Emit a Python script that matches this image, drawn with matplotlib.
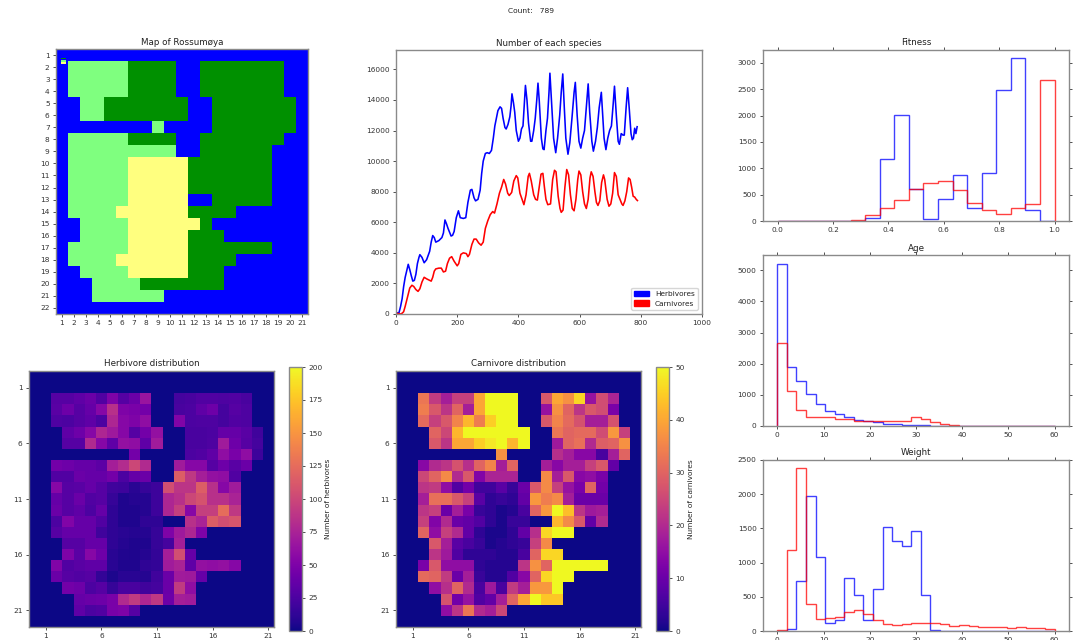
import numpy as np
import matplotlib
matplotlib.use("Agg")
import matplotlib.pyplot as plt
from matplotlib.patches import Patch

W, H = 1076, 640
RGB = {'O': (0, 0, 1), 'J': (0, .565, 0), 'S': (.5, 1, .5), 'D': (1, 1, .5)}

island_rows = [
    "OOOOOOOOOOOOOOOOOOOOO",
    "OSSSSSJJJJOOJJJJJJJOO",
    "OSSSSSJJJJOOJJJJJJJOO",
    "OSSSSSJJJJOOJJJJJJJOO",
    "OOSSJJJJJJJOOJJJJJJJO",
    "OOSSJJJJJJJOOJJJJJJJO",
    "OOOOOOOOSOOOOJJJJJJJO",
    "OSSSSSJJJJOOJJJJJJJOO",
    "OSSSSSSSSSOOJJJJJJOOO",
    "OSSSSSDDDDDJJJJJJJOOO",
    "OSSSSSDDDDDJJJJJJJOOO",
    "OSSSSSDDDDDJJJJJJJOOO",
    "OSSSSSDDDDDOOJJJJJOOO",
    "OSSSSDDDDDDJJJJOOOOOO",
    "OOSSSSDDDDDDJOOOOOOOO",
    "OOSSSSDDDDDJJJOOOOOOO",
    "OSSSSSDDDDDJJJJJJJOOO",
    "OSSSSDDDDDDJJJJOOOOOO",
    "OOSSSSDDDDDJJJOOOOOOO",
    "OOOSSSSJJJJJJJOOOOOOO",
    "OOOSSSSSSOOOOOOOOOOOO",
    "OOOOOOOOOOOOOOOOOOOOO",
]

# Herbivore density: (map row, first column, values)
herb_cells = [
    (2, 2, [30,30,35,40,28,50,30,40,65,0,0,22,24,28,28,26,28,24]),
    (3, 2, [32,42,30,38,55,85,50,48,45,0,0,24,25,35,42,22,30,26]),
    (4, 2, [27,25,30,35,25,78,55,50,60,0,0,52,25,26,26,22,28,26]),
    (5, 3, [35,42,55,78,68,55,30,45,62,0,0,24,24,25,38,38,32,20]),
    (6, 3, [30,30,80,55,35,62,60,35,70,0,0,24,24,26,70,42,30,22]),
    (7, 9, [45,0,0,0,0,25,28,35,60,48,60,18]),
    (8, 2, [45,42,38,38,33,72,82,100,80,0,0,70,55,55,30,42,32,40]),
    (9, 2, [28,28,40,38,38,45,25,38,40,0,0,115,90,72,62,60,28]),
    (10, 2, [55,30,32,38,30,20,18,10,15,18,105,88,88,115,85,55,70]),
    (11, 2, [38,30,40,28,30,15,6,8,8,18,78,85,100,108,85,85,75]),
    (12, 2, [40,30,35,25,38,12,6,6,8,18,78,95,55,95,95,125,90]),
    (13, 2, [25,52,38,38,28,12,6,6,12,12,0,0,85,75,115,105,110]),
    (14, 2, [30,38,38,38,20,12,10,8,8,15,50,68,78,50]),
    (15, 3, [30,30,38,38,12,8,6,6,15,22,72]),
    (16, 3, [50,32,55,42,10,7,6,8,14,72,105,38]),
    (17, 2, [52,28,32,35,35,10,6,6,12,14,70,75,35,62,60,62,55]),
    (18, 2, [40,30,28,30,14,5,10,10,8,20,40,70,68,38]),
    (19, 3, [45,42,25,30,15,24,24,20,22,40,92,60]),
    (20, 4, [38,40,42,48,80,92,78,90,42,72,70]),
    (21, 4, [35,25,28,48,50,30]),
]

carn_cells = [
    (2, 2, [33,23,18,24,24,40,50,50,50,0,0,28,40,37,46,16,26,19]),
    (3, 2, [34,28,22,30,18,40,50,50,50,0,0,16,37,30,22,28,26,12]),
    (4, 2, [31,24,28,35,42,34,45,50,50,0,0,28,35,31,27,18,18,27]),
    (5, 3, [30,25,42,50,50,50,50,50,50,0,0,33,30,31,31,26,38,24]),
    (6, 3, [28,22,40,40,45,48,50,42,50,0,0,17,30,32,20,29,30,37]),
    (7, 9, [37,0,0,0,0,21,18,14,14,6,18,30]),
    (8, 2, [14,20,22,27,21,30,35,18,30,0,0,18,14,18,18,24,28,9]),
    (9, 2, [25,30,36,20,28,13,19,19,19,0,0,36,18,28,14,15,12]),
    (10, 2, [22,23,15,7,11,5,5,8,4,10,28,36,24,16,12,30,11]),
    (11, 2, [18,32,32,28,24,8,3,4,3,9,38,34,36,18,10,10,10]),
    (12, 2, [22,24,10,18,12,4,3,1,2,6,30,38,50,43,22,17,18]),
    (13, 2, [24,13,20,10,9,7,3,1,4,4,0,0,42,36,28,9,20]),
    (14, 2, [30,15,24,20,9,3,1,1,3,9,21,46,50,50]),
    (15, 3, [28,18,8,6,4,1,2,3,4,24,36]),
    (16, 3, [22,17,7,3,3,3,2,2,6,30,46,46]),
    (17, 2, [12,28,15,15,15,3,2,2,2,22,37,30,50,50,50,50,50]),
    (18, 2, [31,30,23,10,18,4,2,2,7,14,30,46,50,50]),
    (19, 3, [15,21,30,20,6,17,6,23,18,38,38,50]),
    (20, 4, [27,11,16,7,9,18,30,40,50,44,44]),
    (21, 4, [15,22,33,20,18,25]),
]

herb_years = [0,10,15,20,25,30,40,45,50,55,60,65,70,75,78,85,92,100,110,115,120,125,130,140,150,155,160,165,170,180,185,190,197,204,210,220,228,235,243,248,255,260,268,275,280,285,292,298,305,312,318,323,328,333,340,345,350,356,360,366,372,376,379,384,388,393,400,405,410,415,420,423,428,433,440,444,450,455,460,464,468,475,480,484,490,495,500,503,508,515,522,528,535,540,545,550,555,562,568,575,582,586,592,598,604,610,616,622,628,633,640,645,652,658,664,671,674,680,686,692,698,704,710,714,720,726,730,736,742,746,752,757,762,768,772,776,780,784,788]
herb_count = [50,100,500,1000,1800,2400,3250,2900,2500,2150,2200,2600,3300,3700,3880,3700,3350,3550,4100,4700,5130,5000,4700,4800,5000,5300,6150,5900,5600,5100,5150,5400,6300,6750,6300,6250,6300,7300,8100,8150,7600,7400,7500,8100,9200,10000,10500,10550,10500,10700,11500,12300,12800,13300,13550,13450,12800,12200,12100,12400,12900,13600,14400,13800,13200,12000,11300,11500,12100,12300,14000,14950,14000,12500,11300,11300,12000,12800,14000,15100,14000,11500,10800,10750,12000,12800,14500,15750,14000,11500,10550,11500,13000,14500,15700,13500,11500,10450,11200,12800,14500,15150,13000,11300,10850,11500,12000,13500,15050,13200,11300,10650,11300,12200,13500,14500,13500,11500,10750,11500,12000,12300,13800,14900,13000,11300,11100,11800,11700,11700,13500,14800,13500,11800,11400,11500,12150,11800,12250]
carn_years = [0,15,20,25,30,35,40,45,52,58,65,72,78,85,92,100,115,120,125,130,140,148,155,162,168,175,182,190,200,205,212,220,230,235,240,248,255,262,270,278,285,292,300,308,316,322,330,338,345,352,358,365,370,378,385,393,398,405,412,418,425,432,436,442,450,456,462,468,474,480,485,490,496,505,512,518,523,530,536,540,546,552,558,564,570,576,582,588,594,598,604,610,616,622,628,634,638,644,650,655,660,666,672,678,682,690,696,702,708,714,720,726,732,738,742,748,754,760,765,770,775,780,785,789]
carn_count = [60,0,50,150,500,900,1300,1700,1880,1800,1600,1480,1650,2100,2400,2300,2150,2400,2800,2950,3000,3000,2750,2800,3300,3650,3750,3450,3150,3300,3900,4000,3950,3750,3900,4550,4900,4900,4650,4500,4700,5600,6100,6500,6700,6600,7200,7900,8300,8800,8500,7900,7750,7950,8700,9050,8900,7900,7500,7150,7800,9000,9200,8700,7800,7500,7450,8300,9150,9200,8300,7500,7150,7200,8800,9400,9300,7700,6900,6650,6800,8300,9450,9100,7800,6900,6750,7500,8800,9350,9100,8000,7200,6900,7500,8900,9300,9000,8000,7300,7100,7400,8600,9100,8800,7500,7050,7200,7900,9250,9000,7800,7500,7200,7100,7400,8000,8900,8800,8300,7700,7650,7500,7420]

fit_herb = [0,0,0,0,0,0,60,1180,2010,610,40,425,875,250,920,2480,3090,215,0]
fit_carn = [0,0,0,0,0,15,110,250,400,615,725,765,590,345,205,135,250,325,2680]
age_herb = [5210,1900,1450,1030,710,470,370,300,200,150,120,70,50,45,35,20,8,0,0,0,0,0,0,0,0,0,0,0,0]
age_carn = [2680,1130,500,300,295,280,240,235,175,170,155,165,150,170,295,230,130,60,30,3,0,0,0,0,0,0,0,0,0]
wt_herb = [0,25,725,1975,1080,110,160,770,520,160,620,1515,1310,1240,1455,525,10,0,0,0,0,0,0,0,0,0,0,0,0]
wt_carn = [20,1180,2380,400,170,195,205,285,310,255,165,105,95,105,115,120,110,100,80,90,80,60,55,55,50,55,50,50,35]

plt.rcParams.update({
    'font.size': 5.3, 'axes.titlesize': 6.3, 'axes.linewidth': 1.0,
    'axes.edgecolor': '#8a8a8a', 'xtick.color': '#333333', 'ytick.color': '#333333',
    'xtick.major.size': 2.0, 'ytick.major.size': 2.0,
    'xtick.major.width': 0.6, 'ytick.major.width': 0.6,
    'xtick.major.pad': 2.6, 'ytick.major.pad': 2.6,
    'text.color': '#222222', 'axes.labelcolor': '#222222', 'axes.titlecolor': '#222222',
})

fig = plt.figure(figsize=(W / 100, H / 100), dpi=100)


def add_axes(x0, y0, x1, y1):
    return fig.add_axes([x0 / W, 1 - y1 / H, (x1 - x0) / W, (y1 - y0) / H])


fig.text(531.5 / W, 1 - 11 / H, "Count:   789", ha='center', va='center', fontsize=5.4)

# Map
ax = add_axes(56, 49, 308, 314)
img = np.array([[RGB[c] for c in row] for row in island_rows])
ax.imshow(img, aspect='auto', interpolation='nearest')
ax.set_xticks(range(21), [str(i + 1) for i in range(21)])
ax.set_yticks(range(22), [str(i + 1) for i in range(22)])
ax.set_title("Map of Rossumøya", pad=2.8)

# Small key in the corner of the map
key = fig.add_axes([61.5 / W, 1 - 64.5 / H, 4 / W, 7 / H])
key.axis('off')
key.set_xlim(0, 1)
key.set_ylim(1, 0)
for i, name in enumerate(['J', 'S', 'D']):
    key.add_patch(plt.Rectangle((0, i * 0.33), 1, 0.25, color=RGB[name], lw=0))

# Population line
ax = add_axes(396, 49.5, 702, 314)
ax.plot(herb_years, herb_count, color='b', lw=1.15)
ax.plot(carn_years, carn_count, color='r', lw=1.15)
ax.set_xlim(0, 1000)
ax.set_ylim(0, 17300)
ax.set_title("Number of each species", pad=2.8)
ax.legend(handles=[Patch(color='b', label='Herbivores'), Patch(color='r', label='Carnivores')],
          loc='lower right', fontsize=5.3, borderaxespad=0.6)


def density(cells):
    grid = np.zeros((23, 22))
    for row, col, values in cells:
        grid[row, col:col + len(values)] = values
    return grid


def heat(cells, box, cbox, vmax, title, label, cticks):
    ax = add_axes(*box)
    im = ax.imshow(density(cells), cmap='plasma', vmin=0, vmax=vmax, aspect='auto', interpolation='nearest')
    ax.set_xticks([1, 6, 11, 16, 21], ['1', '6', '11', '16', '21'])
    ax.set_yticks([1, 6, 11, 16, 21], ['1', '6', '11', '16', '21'])
    ax.set_title(title, pad=3.4)
    cax = add_axes(*cbox)
    cb = fig.colorbar(im, cax=cax, ticks=cticks)
    cb.set_label(label, fontsize=5.3, labelpad=2)


heat(herb_cells, (29, 371, 274, 627), (289, 367, 302, 631), 200, "Herbivore distribution",
     "Number of herbivores", list(range(0, 201, 25)))
heat(carn_cells, (396, 371, 641, 627), (656, 367, 669, 631), 50, "Carnivore distribution",
     "Number of carnivores", list(range(0, 51, 10)))


def hist(box, edges, herb, carn, title, xlim, ylim, xticks, pad):
    ax = add_axes(*box)
    ax.stairs(herb, edges, color='b', alpha=0.75, lw=1.0, baseline=0)
    ax.stairs(carn, edges, color='r', alpha=0.75, lw=1.0, baseline=0)
    ax.set_xlim(*xlim)
    ax.set_ylim(*ylim)
    ax.set_xticks(xticks)
    ax.tick_params(top=True, right=True)
    ax.set_title(title, pad=pad)


fit_edges = np.linspace(0, 1, 20)
other_edges = np.linspace(0, 60, 30)
hist((763, 50, 1069, 221), fit_edges, fit_herb, fit_carn, "Fitness", (-0.053, 1.052), (0, 3245),
     [0, 0.2, 0.4, 0.6, 0.8, 1.0], 3.6)
hist((763, 255, 1069, 426), other_edges, age_herb, age_carn, "Age", (-3.1, 63.1), (0, 5490),
     list(range(0, 61, 10)), 3.0)
hist((763, 460, 1069, 631), other_edges, wt_herb, wt_carn, "Weight", (-3.1, 63.1), (0, 2500),
     list(range(0, 61, 10)), 3.6)

fig.savefig("out.png", dpi=100)
